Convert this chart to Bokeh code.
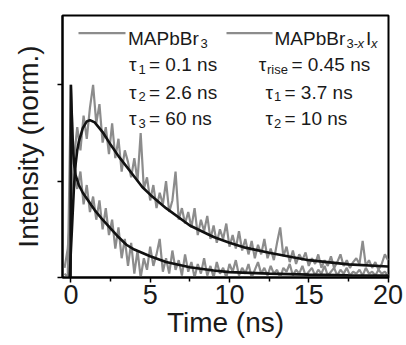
from bokeh.plotting import figure
from bokeh.models import Range1d, FixedTicker, Label, Arrow
from bokeh.embed import file_html
from bokeh.resources import INLINE

# ---------------- data ----------------
time_ns = [
    -0.4, -0.2, 0.0, 0.2, 0.4, 0.6, 0.8, 1.0, 1.2, 1.4,
    1.6, 1.8, 2.0, 2.2, 2.4, 2.6, 2.8, 3.0, 3.2, 3.4,
    3.6, 3.8, 4.0, 4.2, 4.4, 4.6, 4.8, 5.0, 5.2, 5.4,
    5.6, 5.8, 6.0, 6.2, 6.4, 6.6, 6.8, 7.0, 7.2, 7.4,
    7.6, 7.8, 8.0, 8.2, 8.4, 8.6, 8.8, 9.0, 9.2, 9.4,
    9.6, 9.8, 10.0, 10.2, 10.4, 10.6, 10.8, 11.0, 11.2, 11.4,
    11.6, 11.8, 12.0, 12.2, 12.4, 12.6, 12.8, 13.0, 13.2, 13.4,
    13.6, 13.8, 14.0, 14.2, 14.4, 14.6, 14.8, 15.0, 15.2, 15.4,
    15.6, 15.8, 16.0, 16.2, 16.4, 16.6, 16.8, 17.0, 17.2, 17.4,
    17.6, 17.8, 18.0, 18.2, 18.4, 18.6, 18.8, 19.0, 19.2, 19.4,
    19.6, 19.8, 20.0,
]

# MAPbBr3-xIx measured trace
mixed_data = [
    0.05, 0.15, 0.35, 0.62, 0.78, 0.66, 0.84, 0.72, 0.88, 1.00,
    0.80, 0.90, 0.70, 0.78, 0.64, 0.80, 0.62, 0.72, 0.55, 0.66,
    0.60, 0.52, 0.62, 0.50, 0.75, 0.46, 0.52, 0.40, 0.48, 0.36,
    0.44, 0.38, 0.50, 0.34, 0.40, 0.55, 0.30, 0.36, 0.28, 0.34,
    0.26, 0.36, 0.22, 0.30, 0.24, 0.32, 0.20, 0.27, 0.18, 0.25,
    0.20, 0.28, 0.16, 0.22, 0.15, 0.24, 0.14, 0.20, 0.12, 0.19,
    0.10, 0.17, 0.12, 0.20, 0.10, 0.15, 0.09, 0.18, 0.26, 0.11,
    0.16, 0.08, 0.14, 0.07, 0.12, 0.09, 0.13, 0.06, 0.10, 0.07,
    0.12, 0.05, 0.09, 0.06, 0.11, 0.05, 0.08, 0.12, 0.06, 0.09,
    0.05, 0.08, 0.10, 0.07, 0.19, 0.06, 0.09, 0.05, 0.08, 0.04,
    0.07, 0.12, 0.09,
]

# MAPbBr3 measured trace
br_data = [
    0.02, 0.00, 1.00, 0.52, 0.46, 0.55, 0.38, 0.48, 0.34, 0.42,
    0.30, 0.40, 0.25, 0.36, 0.22, 0.30, 0.15, 0.26, 0.10, 0.20,
    0.06, 0.18, 0.02, 0.14, 0.00, 0.10, 0.04, 0.16, 0.06, 0.12,
    0.20, 0.03, 0.10, 0.02, 0.14, 0.04, 0.09, 0.01, 0.12, 0.03,
    0.08, 0.00, 0.07, 0.02, 0.10, 0.01, 0.06, 0.00, 0.08, 0.02,
    0.05, 0.00, 0.07, 0.03, 0.09, 0.01, 0.05, 0.02, 0.07, 0.00,
    0.04, 0.08, 0.02, 0.05, 0.01, 0.06, 0.02, 0.04, 0.00, 0.05,
    0.03, 0.07, 0.01, 0.04, 0.02, 0.06, 0.01, 0.03, 0.05, 0.01,
    0.04, 0.02, 0.06, 0.01, 0.03, 0.05, 0.01, 0.04, 0.02, 0.05,
    0.01, 0.03, 0.02, 0.04, 0.01, 0.05, 0.02, 0.03, 0.01, 0.04,
    0.02, 0.03, 0.01,
]

# fitted curves
br_fit_time = [-0.02, 0.0, 0.05, 0.1, 0.15, 0.2, 0.3, 0.5, 0.75, 1.0, 1.5, 2.0,
               2.5, 3.0, 3.5, 4.0, 5.0, 6.0, 7.5, 9.0, 10.0, 12.5, 15.0, 17.5, 20.0]
br_fit = [0.0, 1.0, 0.86, 0.74, 0.65, 0.59, 0.53, 0.48, 0.44, 0.41, 0.35, 0.30,
          0.255, 0.21, 0.17, 0.145, 0.11, 0.08, 0.053, 0.036, 0.028, 0.02, 0.015, 0.012, 0.01]

mixed_fit_time = [-0.08, 0.0, 0.1, 0.2, 0.3, 0.4, 0.5, 0.75, 1.0, 1.2, 1.5, 2.0, 2.5,
                  3.0, 3.75, 4.5, 5.0, 6.0, 7.5, 9.0, 10.0, 11.0, 12.5, 14.0, 15.0, 17.5, 20.0]
mixed_fit = [0.0, 0.14, 0.31, 0.48, 0.59, 0.66, 0.705, 0.775, 0.81, 0.817, 0.805, 0.755, 0.69,
             0.63, 0.55, 0.47, 0.43, 0.36, 0.27, 0.21, 0.18, 0.155, 0.128, 0.105, 0.09, 0.068, 0.057]

x_ticks = [0, 5, 10, 15, 20]
x_minor_ticks = [2.5, 7.5, 12.5, 17.5]
y_ticks = [0, 0.5, 1.0]

# ---------------- styling ----------------
FONT = "Liberation Sans"
GRAY = "#8c8c8c"
BLACK = "#111111"
TXT = "#1a1a1a"

p = figure(width=406, height=345, output_backend="svg", toolbar_location=None,
           x_range=Range1d(-0.53, 20.03), y_range=Range1d(0, 1.36),
           min_border_left=62, min_border_right=18, min_border_top=15, min_border_bottom=68)
p.grid.visible = False
p.outline_line_color = "black"
p.outline_line_width = 2
p.background_fill_color = "white"
p.border_fill_color = "white"

xa = p.xaxis[0]
xa.ticker = FixedTicker(ticks=x_ticks, minor_ticks=x_minor_ticks)
xa.major_tick_in = 0
xa.major_tick_out = 5
xa.minor_tick_in = 0
xa.minor_tick_out = 4
xa.axis_line_width = 2
xa.major_tick_line_width = 1.5
xa.minor_tick_line_width = 1.5
xa.major_label_text_font = FONT
xa.major_label_text_font_size = "27px"
xa.major_label_text_color = TXT
xa.major_label_standoff = 2
xa.axis_label = "Time (ns)"
xa.axis_label_text_font = FONT
xa.axis_label_text_font_size = "28px"
xa.axis_label_text_font_style = "normal"
xa.axis_label_text_color = TXT
xa.axis_label_standoff = 0

ya = p.yaxis[0]
ya.ticker = FixedTicker(ticks=y_ticks, minor_ticks=[])
ya.major_tick_in = 0
ya.major_tick_out = 5
ya.minor_tick_out = 0
ya.axis_line_width = 2
ya.major_tick_line_width = 1.5
ya.major_label_overrides = {t: "" for t in y_ticks}
ya.major_label_text_font_size = "10px"
ya.major_label_standoff = 0
ya.axis_label = "Intensity (norm.)"
ya.axis_label_text_font = FONT
ya.axis_label_text_font_size = "28px"
ya.axis_label_text_font_style = "normal"
ya.axis_label_text_color = TXT
ya.axis_label_standoff = 14

# data traces
p.line(time_ns, mixed_data, line_color=GRAY, line_width=2.2)
p.line(time_ns, br_data, line_color=GRAY, line_width=2.2)
# fits
p.line(br_fit_time, br_fit, line_color=BLACK, line_width=2.6)
p.line(mixed_fit_time, mixed_fit, line_color=BLACK, line_width=2.6)

# ---------------- legend / annotations (frame-relative screen px) ----------------
FL, FB = 62, 277  # frame left / bottom in canvas px


def lab(x, y, text, size=19, style="normal"):
    p.add_layout(Label(x=x - FL, y=FB - y, x_units="screen", y_units="screen",
                       text=text, text_font=FONT, text_font_size=f"{size}px",
                       text_font_style=style, text_color=TXT,
                       text_baseline="alphabetic", text_align="left"))


def seg(x0, x1, y):
    p.add_layout(Arrow(x_start=x0 - FL, y_start=FB - y, x_end=x1 - FL, y_end=FB - y,
                       start_units="screen", end_units="screen", start=None, end=None,
                       line_color=GRAY, line_width=2.2))


SUB = 4.5
seg(78, 125, 32.7)
lab(127.5, 38.3, "MAPbBr")
lab(200, 38.3 + SUB, "3", 13)
seg(226, 272, 32.7)
lab(274, 38.3, "MAPbBr")
lab(346, 38.3 + SUB, "3-", 13)
lab(357, 38.3 + SUB, "x", 13, "italic")
lab(365.5, 38.3, "I")
lab(370.5, 38.3 + SUB, "x", 13, "italic")

rows = [64.0, 91.7, 118.3]
left_subs = ["1", "2", "3"]
left_vals = ["= 0.1 ns", "= 2.6 ns", "= 60 ns"]
for yb, s, v in zip(rows, left_subs, left_vals):
    lab(128.5, yb, "τ")
    lab(138, yb + SUB, s, 13)
    lab(148.5, yb, v)

lab(258.3, rows[0], "τ")
lab(266.5, rows[0] + SUB, "rise", 13)
lab(291, rows[0], "= 0.45 ns")
for yb, s, v in zip(rows[1:], ["1", "2"], ["= 3.7 ns", "= 10 ns"]):
    lab(265, yb, "τ")
    lab(273.5, yb + SUB, s, 13)
    lab(284, yb, v)

open("out.html", "w").write(file_html(p, INLINE))
